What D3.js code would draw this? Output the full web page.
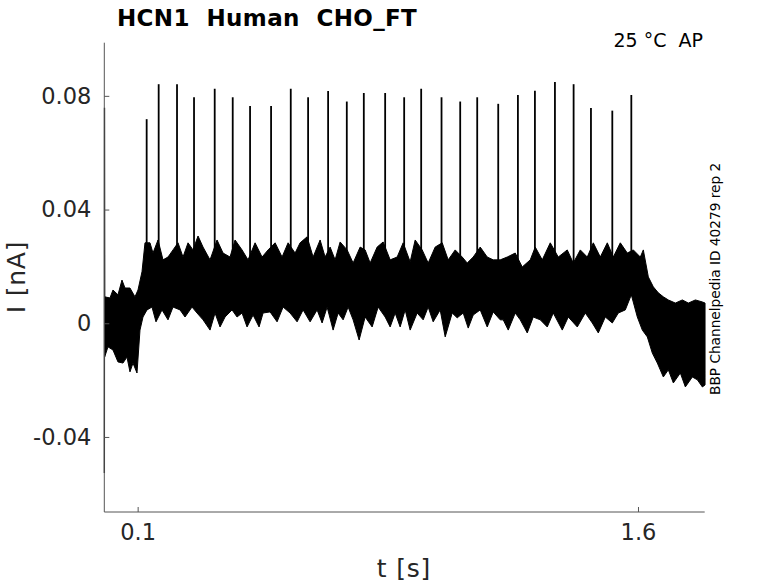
<!DOCTYPE html>
<html><head><meta charset="utf-8">
<script src="https://cdn.jsdelivr.net/npm/d3@7/dist/d3.min.js"></script>
<style>
body{margin:0;background:#fff}
text{font-family:"DejaVu Sans",sans-serif}
</style>
</head><body>
<svg id="c" width="778" height="583"></svg>
<script>
// ---- data (time in s, current in nA) ----
const xTickValues = [0.1, 1.6];
const yTickValues = [-0.04, 0, 0.04, 0.08];
const yTickLabels = ["-0.04", "0", "0.04", "0.08"];

// upper edge of the noisy current band
const upperEnvelope = [
 [0.001,0.0093],[0.017,0.0089],[0.026,0.0117],[0.041,0.0100],[0.053,0.0152],[0.062,0.0124],[0.077,0.0124],
 [0.092,0.0093],[0.101,0.0117],[0.113,0.0181],[0.122,0.0283],[0.137,0.0283],[0.146,0.0247],[0.161,0.0293],
 [0.176,0.0223],[0.191,0.0233],[0.206,0.0258],[0.221,0.0283],[0.236,0.0233],[0.251,0.0283],[0.266,0.0258],
 [0.281,0.0307],[0.296,0.0268],[0.317,0.0223],[0.338,0.0293],[0.356,0.0247],[0.377,0.0233],[0.392,0.0293],
 [0.413,0.0258],[0.431,0.0223],[0.452,0.0283],[0.473,0.0233],[0.491,0.0258],[0.512,0.0283],[0.533,0.0233],
 [0.551,0.0283],[0.572,0.0247],[0.587,0.0283],[0.608,0.0304],[0.626,0.0233],[0.647,0.0293],[0.662,0.0233],
 [0.677,0.0268],[0.692,0.0223],[0.707,0.0286],[0.728,0.0258],[0.746,0.0212],[0.767,0.0268],[0.782,0.0258],
 [0.797,0.0212],[0.818,0.0268],[0.836,0.0286],[0.857,0.0223],[0.878,0.0233],[0.896,0.0283],[0.917,0.0216],
 [0.932,0.0293],[0.953,0.0258],[0.971,0.0212],[0.992,0.0268],[1.013,0.0283],[1.031,0.0223],[1.052,0.0258],
 [1.073,0.0233],[1.088,0.0212],[1.106,0.0233],[1.127,0.0268],[1.148,0.0233],[1.166,0.0223],[1.187,0.0223],
 [1.208,0.0233],[1.232,0.0247],[1.253,0.0198],[1.277,0.0223],[1.292,0.0268],[1.313,0.0223],[1.337,0.0283],
 [1.361,0.0233],[1.388,0.0258],[1.406,0.0212],[1.427,0.0258],[1.448,0.0233],[1.466,0.0283],[1.487,0.0233],
 [1.508,0.0283],[1.526,0.0233],[1.547,0.0283],[1.568,0.0247],[1.586,0.0258],[1.607,0.0233],[1.616,0.0258],
 [1.631,0.0163],[1.646,0.0128],[1.661,0.0107],[1.676,0.0093],[1.691,0.0082],[1.712,0.0071],[1.733,0.0082],
 [1.751,0.0071],[1.772,0.0082],[1.793,0.0075],[1.801,0.0071]
];
// lower edge of the noisy current band
const lowerEnvelope = [
 [0.001,-0.0119],[0.011,-0.0083],[0.026,-0.0094],[0.041,-0.0136],[0.056,-0.0140],[0.068,-0.0119],[0.077,-0.0171],
 [0.086,-0.0140],[0.098,-0.0175],[0.107,-0.0024],[0.116,0.0022],[0.128,0.0047],[0.143,0.0057],[0.155,0.0005],
 [0.173,0.0047],[0.191,0.0012],[0.206,0.0057],[0.227,0.0047],[0.242,0.0022],[0.263,0.0057],[0.278,0.0036],
 [0.296,0.0012],[0.317,-0.0024],[0.332,0.0036],[0.347,-0.0013],[0.362,0.0022],[0.383,0.0047],[0.398,0.0022],
 [0.413,0.0036],[0.428,-0.0013],[0.446,0.0029],[0.464,-0.0013],[0.476,0.0036],[0.497,0.0040],[0.518,0.0005],
 [0.536,0.0057],[0.557,0.0036],[0.578,0.0005],[0.596,0.0047],[0.617,0.0005],[0.638,0.0047],[0.653,0.0001],
 [0.668,0.0057],[0.686,-0.0024],[0.701,0.0036],[0.716,0.0012],[0.731,0.0057],[0.746,0.0012],[0.764,-0.0059],
 [0.782,0.0022],[0.803,-0.0013],[0.821,0.0057],[0.842,0.0022],[0.857,-0.0013],[0.872,0.0036],[0.887,-0.0013],
 [0.902,0.0047],[0.917,-0.0024],[0.938,0.0036],[0.956,0.0012],[0.971,0.0057],[0.986,0.0005],[1.007,0.0047],
 [1.022,-0.0048],[1.043,0.0036],[1.058,0.0019],[1.076,0.0036],[1.091,-0.0017],[1.106,0.0029],[1.127,0.0047],
 [1.148,-0.0013],[1.166,0.0040],[1.187,0.0012],[1.196,0.0012],[1.211,-0.0024],[1.232,0.0036],[1.247,0.0012],
 [1.268,-0.0034],[1.286,0.0022],[1.307,0.0012],[1.328,-0.0013],[1.346,0.0036],[1.373,-0.0024],[1.391,0.0022],
 [1.418,-0.0013],[1.442,0.0036],[1.463,0.0001],[1.481,-0.0034],[1.502,0.0022],[1.523,0.0001],[1.541,0.0036],
 [1.562,0.0047],[1.580,0.0100],[1.598,0.0022],[1.613,-0.0024],[1.628,-0.0048],[1.643,-0.0105],[1.658,-0.0140],
 [1.676,-0.0189],[1.691,-0.0164],[1.706,-0.0210],[1.727,-0.0175],[1.742,-0.0224],[1.763,-0.0189],[1.778,-0.0199],
 [1.793,-0.0224],[1.801,-0.0217]
];
// action-potential-like spikes: time and peak current
const spikeTimes = [0.127,0.163,0.218,0.269,0.331,0.385,0.437,0.500,0.559,0.611,0.671,0.727,0.778,0.842,
 0.899,0.950,1.011,1.067,1.118,1.181,1.240,1.291,1.351,1.407,1.459,1.523,1.580];
const spikePeaks = [0.0718,0.0841,0.0841,0.0795,0.0825,0.0795,0.0764,0.0764,0.0825,0.0795,0.0817,0.0780,0.0810,0.0810,
 0.0795,0.0825,0.0795,0.0780,0.0795,0.0772,0.0803,0.0818,0.0849,0.0841,0.0757,0.0748,0.0803];
const spikeBase = 0.018;
// capacitive transient at trace onset
const onsetTimes = [0.0002, 0.0006, 0.0012];
const onsetValues = [-0.0527, 0.0758, 0.0000];

// ---- layout ----
const L = 104.3, R = 704.7, T = 42.7, B = 512;
const svg = d3.select("#c");
const x = d3.scaleLinear().domain([0, 1.8]).range([L, R]);
const y = d3.scaleLinear().domain([-0.0664, 0.0987]).range([B, T]);

const band = upperEnvelope.concat(lowerEnvelope.slice().reverse());
const line = d3.line().x(d => x(d[0])).y(d => y(d[1]));

svg.append("path").attr("d", line(band) + "Z")
  .attr("fill", "#000").attr("stroke", "#000").attr("stroke-width", 1).attr("stroke-linejoin", "miter");

svg.append("g").selectAll("line").data(spikeTimes).join("line")
  .attr("x1", d => x(d)).attr("x2", d => x(d))
  .attr("y1", y(spikeBase)).attr("y2", (d, i) => y(spikePeaks[i]))
  .attr("stroke", "#000").attr("stroke-width", 1.8);

svg.append("path").attr("d", line(onsetTimes.map((t, i) => [t, onsetValues[i]])))
  .attr("fill", "none").attr("stroke", "#000").attr("stroke-width", 1.3);

// ---- axes ----
const axisColor = "#262626";
const xAxis = d3.axisBottom(x).tickValues(xTickValues).tickSize(-5).tickPadding(12).tickFormat(d3.format(".1f"));
const gx = svg.append("g").attr("transform", `translate(0,${B})`).call(xAxis);
const yAxis = d3.axisLeft(y).tickValues(yTickValues).tickSize(-5).tickPadding(13).tickFormat((d, i) => yTickLabels[i]);
const gy = svg.append("g").attr("transform", `translate(${L},0)`).call(yAxis);
[gx, gy].forEach(g => {
  g.select(".domain").attr("stroke", "#555").attr("stroke-width", 1);
  g.selectAll(".tick line").attr("stroke", "#555");
  g.selectAll(".tick text").attr("fill", axisColor).style("font-size", "22.5px").style("font-family", "DejaVu Sans");
});
gx.select(".domain").attr("d", `M${L},0H${R}`);
gy.select(".domain").attr("d", `M0,${T}V${B}`);

// ---- text ----
svg.append("text").attr("x", 117).attr("y", 26).attr("font-weight", "bold").attr("font-size", 23)
  .attr("letter-spacing", 0.35).attr("fill", "#000").style("white-space", "pre").text("HCN1  Human  CHO_FT");
svg.append("text").attr("x", 703).attr("y", 47).attr("text-anchor", "end").attr("font-size", 19)
  .attr("fill", "#000").style("white-space", "pre").text("25 °C  AP");
svg.append("text").attr("transform", "translate(720,395) rotate(-90)").attr("font-size", 13.7)
  .attr("fill", "#000").text("BBP Channelpedia ID 40279 rep 2");
svg.append("text").attr("transform", "translate(25,277) rotate(-90)").attr("text-anchor", "middle")
  .attr("font-size", 25).attr("letter-spacing", 0.8).attr("fill", axisColor).style("white-space", "pre").text("I [nA]");
svg.append("text").attr("x", 404).attr("y", 577).attr("text-anchor", "middle")
  .attr("font-size", 25).attr("letter-spacing", 0.8).attr("fill", axisColor).style("white-space", "pre").text("t [s]");
</script>
</body></html>
